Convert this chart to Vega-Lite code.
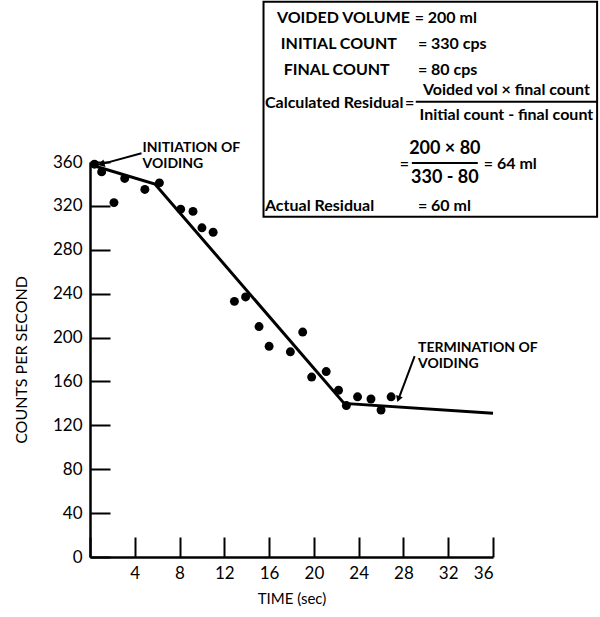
{
  "$schema": "https://vega.github.io/schema/vega-lite/v6.json",
  "autosize": {"type": "none"},
  "width": 403,
  "height": 395,
  "padding": {"left": 90, "top": 162, "right": 107, "bottom": 60},
  "background": "white",
  "config": {
    "view": {"stroke": null},
    "font": "Lato",
    "axis": {"labelFont": "Lato", "titleFont": "Lato", "labelColor": "black", "titleColor": "black", "domainColor": "black", "tickColor": "black", "grid": false}
  },
  "datasets": {
    "counts": [
      {"t": 0.4, "cps": 358}, {"t": 1.04, "cps": 351}, {"t": 2.14, "cps": 323}, {"t": 3.1, "cps": 345},
      {"t": 4.9, "cps": 335}, {"t": 6.2, "cps": 341}, {"t": 8.1, "cps": 317}, {"t": 9.2, "cps": 315},
      {"t": 10.0, "cps": 300}, {"t": 11.0, "cps": 296}, {"t": 12.9, "cps": 233}, {"t": 13.9, "cps": 237},
      {"t": 15.1, "cps": 210}, {"t": 16.0, "cps": 192}, {"t": 17.9, "cps": 187}, {"t": 19.0, "cps": 205},
      {"t": 19.8, "cps": 164}, {"t": 21.1, "cps": 169}, {"t": 22.2, "cps": 152}, {"t": 22.9, "cps": 138},
      {"t": 23.9, "cps": 146}, {"t": 25.1, "cps": 144}, {"t": 26.0, "cps": 134}, {"t": 26.9, "cps": 146}
    ],
    "fit": [
      {"t": 0.2, "cps": 357}, {"t": 5.8, "cps": 340}, {"t": 22.7, "cps": 140}, {"t": 36, "cps": 131}
    ],
    "box": [{"t": 15.5, "t2": 45.3, "cps": 310, "cps2": 506}],
    "fracbars": [
      {"t": 29.1, "t2": 45.36, "cps": 414.8},
      {"t": 28.75, "t2": 34.64, "cps": 359.2}
    ],
    "boxtext": [
      {"t": 16.7, "cps": 491.3, "label": "VOIDED VOLUME"},
      {"t": 29.0, "cps": 491.3, "label": "= 200 ml"},
      {"t": 17.05, "cps": 467.6, "label": "INITIAL COUNT"},
      {"t": 29.29, "cps": 467.6, "label": "=  330 cps"},
      {"t": 17.3, "cps": 443.9, "label": "FINAL COUNT"},
      {"t": 29.29, "cps": 443.9, "label": "= 80 cps"},
      {"t": 15.63, "cps": 413.9, "label": "Calculated Residual"},
      {"t": 28.13, "cps": 413.9, "label": "="},
      {"t": 27.68, "cps": 358.2, "label": "="},
      {"t": 35.18, "cps": 358.2, "label": "= 64 ml"},
      {"t": 15.63, "cps": 320, "label": "Actual Residual"},
      {"t": 29.29, "cps": 320, "label": "= 60 ml"}
    ],
    "fractext": [
      {"t": 37.2, "cps": 425.7, "label": "Voided vol × final count"},
      {"t": 37.2, "cps": 402.9, "label": "Initial count - final count"}
    ],
    "numtext": [
      {"t": 31.7, "cps": 371.9, "label": "200 × 80"},
      {"t": 31.7, "cps": 345.5, "label": "330 - 80"}
    ],
    "notes": [
      {"t": 4.7, "cps": 373, "label": "INITIATION OF"},
      {"t": 4.7, "cps": 358, "label": "VOIDING"},
      {"t": 29.3, "cps": 190.5, "label": "TERMINATION OF"},
      {"t": 29.3, "cps": 176, "label": "VOIDING"}
    ],
    "leaders": [
      {"t": 4.6, "cps": 368, "t2": 1.2, "cps2": 358.5},
      {"t": 29.0, "cps": 183, "t2": 27.6, "cps2": 145}
    ],
    "head1": [{"t": 1.0, "cps": 358}],
    "head2": [{"t": 27.55, "cps": 144}]
  },
  "layer": [
    {
      "data": {"name": "box"},
      "mark": {"type": "rect", "fill": "white", "stroke": "black", "strokeWidth": 2, "clip": false},
      "encoding": {
        "x": {"field": "t", "type": "quantitative", "scale": {"domain": [0, 36], "nice": false, "zero": true},
          "axis": {"values": [0,2,4,6,8,10,12,14,16,18,20,22,24,26,28,30,32,34,36],
            "labelExpr": "datum.value % 4 === 0 && datum.value > 0 ? datum.label : ''",
            "tickSize": {"condition": {"test": "datum.value % 4 === 0", "value": -20}, "value": -10},
            "tickWidth": 2, "domainWidth": 2.5, "labelPadding": 28, "labelFontSize": 17, "labelFontWeight": "normal",
            "title": "TIME (sec)", "titleFontSize": 15, "titleFontWeight": "normal", "titlePadding": 10}},
        "x2": {"field": "t2"},
        "y": {"field": "cps", "type": "quantitative", "scale": {"domain": [0, 360], "nice": false},
          "axis": {"values": [0,40,80,120,160,200,240,280,320,360], "tickSize": -20, "tickWidth": 2, "domainWidth": 2.5,
            "labelPadding": 28, "labelFontSize": 17, "labelFontWeight": "normal",
            "title": "COUNTS PER SECOND", "titleFontSize": 16, "titleFontWeight": "normal", "titlePadding": 23}},
        "y2": {"field": "cps2"}
      }
    },
    {
      "data": {"name": "fit"},
      "mark": {"type": "line", "color": "black", "strokeWidth": 3},
      "encoding": {"x": {"field": "t", "type": "quantitative"}, "y": {"field": "cps", "type": "quantitative"}}
    },
    {
      "data": {"name": "counts"},
      "mark": {"type": "point", "filled": true, "color": "black", "size": 80, "opacity": 1},
      "encoding": {"x": {"field": "t", "type": "quantitative"}, "y": {"field": "cps", "type": "quantitative"}}
    },
    {
      "data": {"name": "leaders"},
      "mark": {"type": "rule", "color": "black", "strokeWidth": 2},
      "encoding": {"x": {"field": "t", "type": "quantitative"}, "y": {"field": "cps", "type": "quantitative"},
        "x2": {"field": "t2"}, "y2": {"field": "cps2"}}
    },
    {
      "data": {"name": "head1"},
      "mark": {"type": "point", "shape": "triangle-left", "filled": true, "color": "black", "size": 60, "angle": 345, "opacity": 1},
      "encoding": {"x": {"field": "t", "type": "quantitative"}, "y": {"field": "cps", "type": "quantitative"}}
    },
    {
      "data": {"name": "head2"},
      "mark": {"type": "point", "shape": "triangle-down", "filled": true, "color": "black", "size": 50, "angle": 20, "opacity": 1},
      "encoding": {"x": {"field": "t", "type": "quantitative"}, "y": {"field": "cps", "type": "quantitative"}}
    },
    {
      "data": {"name": "fracbars"},
      "mark": {"type": "rule", "color": "black", "strokeWidth": 2, "clip": false},
      "encoding": {"x": {"field": "t", "type": "quantitative"}, "x2": {"field": "t2"}, "y": {"field": "cps", "type": "quantitative"}}
    },
    {
      "data": {"name": "boxtext"},
      "mark": {"type": "text", "align": "left", "baseline": "middle", "fontSize": 16, "fontWeight": "bold", "font": "Lato", "color": "black", "clip": false},
      "encoding": {"x": {"field": "t", "type": "quantitative"}, "y": {"field": "cps", "type": "quantitative"}, "text": {"field": "label"}}
    },
    {
      "data": {"name": "fractext"},
      "mark": {"type": "text", "align": "center", "baseline": "middle", "fontSize": 16, "fontWeight": "bold", "font": "Lato", "color": "black", "clip": false},
      "encoding": {"x": {"field": "t", "type": "quantitative"}, "y": {"field": "cps", "type": "quantitative"}, "text": {"field": "label"}}
    },
    {
      "data": {"name": "numtext"},
      "mark": {"type": "text", "align": "center", "baseline": "middle", "fontSize": 18, "fontWeight": "bold", "font": "Lato", "color": "black", "clip": false},
      "encoding": {"x": {"field": "t", "type": "quantitative"}, "y": {"field": "cps", "type": "quantitative"}, "text": {"field": "label"}}
    },
    {
      "data": {"name": "notes"},
      "mark": {"type": "text", "align": "left", "baseline": "middle", "fontSize": 14, "fontWeight": "bold", "font": "Lato", "color": "black", "clip": false},
      "encoding": {"x": {"field": "t", "type": "quantitative"}, "y": {"field": "cps", "type": "quantitative"}, "text": {"field": "label"}}
    }
  ]
}
